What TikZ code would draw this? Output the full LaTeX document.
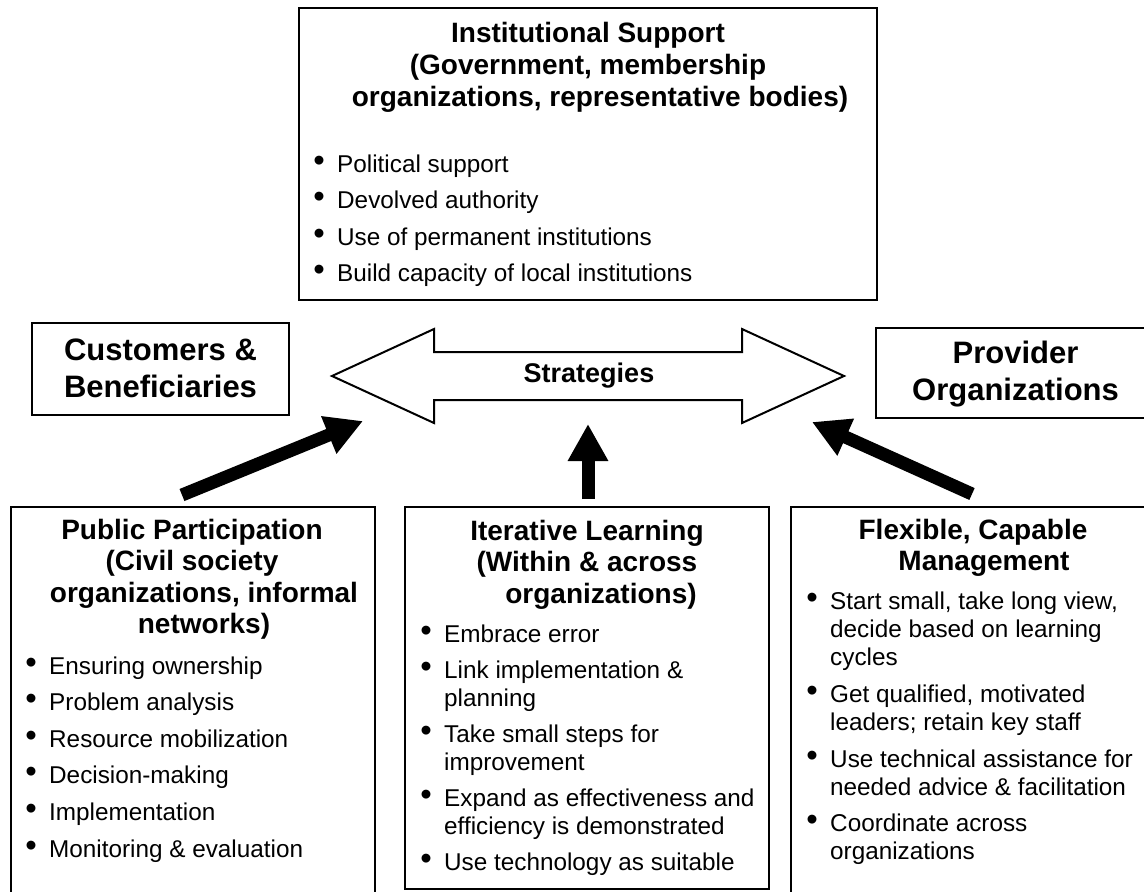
\documentclass[tikz,border=0pt]{standalone}
\usepackage{fontspec}
\setmainfont{Liberation Sans}
\usetikzlibrary{arrows.meta}

% stacked lines aligned on the first baseline
\newcommand{\rows}[2][l]{\begin{tabular}[t]{@{}#1@{}}#2\end{tabular}}
% hanging bullet, centred 18pt left of the item text
\newcommand{\bul}{\llap{\makebox[36pt][c]{\raisebox{1pt}{\scalebox{1.35}{\textbullet}}}}}

\tikzset{
  frame/.style={draw, line width=2.6pt, inner sep=0pt, outer sep=0pt, fill=white},
  headline/.style={anchor=base, inner sep=0pt, font=\bfseries\fontsize{28}{32}\selectfont},
  subhead/.style={anchor=base, inner sep=0pt, font=\bfseries\fontsize{28}{31.5}\selectfont},
  sidelabel/.style={anchor=base, inner sep=0pt, font=\bfseries\fontsize{31}{37}\selectfont},
  entry/.style={anchor=base west, inner sep=0pt, font=\fontsize{24.3}{28.3}\selectfont},
  outline/.style={draw, line width=2pt, fill=white, line join=miter},
  fat/.style={line width=13pt, line cap=butt, -{Triangle[length=37pt,width=38pt]}},
}

\begin{document}
\begin{tikzpicture}[x=1pt, y=-1pt]
\useasboundingbox (0,0) rectangle (1144,892);

% ---------- top box ----------
\node[frame, minimum width=578pt, minimum height=292pt] (inst) at (588,154) {};
\node[headline] (inst-title) at (588,42)
  {\rows[c]{Institutional Support\\(Government, membership\\\hspace*{24pt}organizations, representative bodies)}};
\foreach \txt [count=\k] in {Political support, Devolved authority,
    Use of permanent institutions, Build capacity of local institutions}
  \node[entry] (inst-\k) at (337,{172+36.65*(\k-1)}) {\bul\txt};

% ---------- side boxes ----------
\node[frame, minimum width=257pt, minimum height=92pt] (cust) at (160.5,369) {};
\node[sidelabel] (cust-text) at (160.5,360) {\rows[c]{Customers \&\\Beneficiaries}};

\node[frame, minimum width=278pt, minimum height=90pt] (prov) at (1015,373) {};
\node[sidelabel] (prov-text) at (1015.5,363) {\rows[c]{Provider\\Organizations}};

% ---------- strategies double arrow ----------
\draw[outline] (332,376) -- (434,329) -- (434,352) -- (742,352) -- (742,329)
  -- (844,376) -- (742,423) -- (742,400) -- (434,400) -- (434,423) -- cycle;
\node[anchor=base, inner sep=0pt, font=\bfseries\fontsize{27}{32}\selectfont]
  (strat) at (589,382) {Strategies};

% ---------- bottom boxes ----------
\node[frame, minimum width=364pt, minimum height=390pt] (pub) at (193,702) {};
\node[subhead] (pub-title) at (192,539)
  {\rows[c]{Public Participation\\(Civil society\\\hspace*{24pt}organizations, informal\\\hspace*{24pt}networks)}};
\foreach \txt [count=\k] in {Ensuring ownership, Problem analysis,
    Resource mobilization, Decision-making, Implementation,
    Monitoring \& evaluation}
  \node[entry] (pub-\k) at (49,{674+36.6*(\k-1)}) {\bul\txt};

\node[frame, minimum width=364pt, minimum height=382pt] (iter) at (587,698) {};
\node[subhead] (iter-title) at (587,540)
  {\rows[c]{Iterative Learning\\(Within \& across\\\hspace*{28pt}organizations)}};
\node[entry] (iter-1) at (444,642) {\bul Embrace error};
\node[entry] (iter-2) at (444,678) {\bul\rows{Link implementation \&\\planning}};
\node[entry] (iter-3) at (444,742) {\bul\rows{Take small steps for\\improvement}};
\node[entry] (iter-4) at (444,806) {\bul\rows{Expand as effectiveness and\\efficiency is demonstrated}};
\node[entry] (iter-5) at (444,870) {\bul Use technology as suitable};

\node[frame, minimum width=364pt, minimum height=390pt] (mgmt) at (973,702) {};
\node[subhead] (mgmt-title) at (973,539)
  {\rows[c]{Flexible, Capable\\\hspace*{22pt}Management}};
\node[entry] (mgmt-1) at (830,609) {\bul\rows{Start small, take long view,\\decide based on learning\\cycles}};
\node[entry] (mgmt-2) at (830,702) {\bul\rows{Get qualified, motivated\\leaders; retain key staff}};
\node[entry] (mgmt-3) at (830,767) {\bul\rows{Use technical assistance for\\needed advice \& facilitation}};
\node[entry] (mgmt-4) at (830,831) {\bul\rows{Coordinate across\\organizations}};

% ---------- black arrows into the strategies ----------
\coordinate (pub-out)  at (182,495);
\coordinate (pub-in)   at (363,421);
\coordinate (iter-out) at (588,499);
\coordinate (iter-in)  at (588,424);
\coordinate (mgmt-out) at (972,494);
\coordinate (mgmt-in)  at (812,422);
\draw[fat] (pub-out) -- (pub-in);
\draw[fat] (iter-out) -- (iter-in);
\draw[fat] (mgmt-out) -- (mgmt-in);
\end{tikzpicture}
\end{document}
